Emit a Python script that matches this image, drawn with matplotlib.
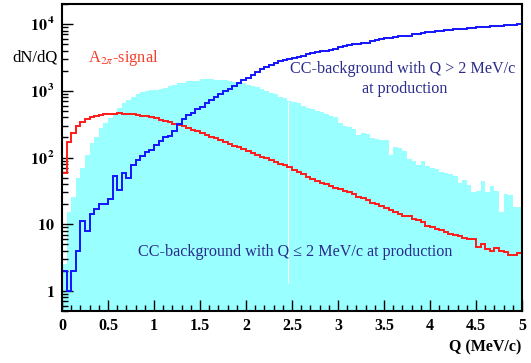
import numpy as np
import matplotlib
matplotlib.use("Agg")
import matplotlib.pyplot as plt
from matplotlib.ticker import FixedLocator, FixedFormatter, MultipleLocator, NullFormatter

plt.rcParams['font.family'] = ['Liberation Serif', 'DejaVu Serif']
plt.rcParams['mathtext.fontset'] = 'stix'

# --- datos (100 bins de 0.05 MeV/c) ---
bin_width = 0.05
n_bins = 100

# CC-background con Q <= 2 MeV/c (relleno cian)
cc_low = [2.5, 15, 26, 49, 70, 110, 165, 205, 278, 330,
          390, 470, 550, 660, 730, 820, 900, 950, 1000, 1020,
          1040, 1060, 1100, 1200, 1230, 1300, 1310, 1380, 1400, 1420,
          1480, 1500, 1490, 1460, 1450, 1440, 1380, 1370, 1340, 1300,
          1220, 1180, 1150, 1050, 1000, 920, 880, 820, 780, 710,
          670, 650, 590, 550, 530, 490, 475, 445, 415, 400,
          330, 295, 285, 265, 218, 232, 228, 198, 192, 185,
          180, 109, 142, 138, 124, 95, 90, 77, 89, 75,
          70, 68, 61, 58, 56, 52, 42, 46, 39, 30,
          32, 44, 30, 37, 31, 15, 28, 27, 18, 18]

# senal A_2pi (rojo)
signal = [59, 172, 235, 300, 340, 375, 400, 420, 435, 445,
          448, 455, 458, 455, 448, 442, 435, 420, 415, 400,
          385, 360, 348, 335, 322, 312, 298, 280, 262, 248,
          232, 220, 205, 193, 182, 170, 160, 151, 142, 133,
          124, 117, 110, 103, 97, 92, 86, 81, 77, 73,
          66, 61, 56, 51, 48, 45, 42, 40, 37, 35,
          34, 32, 30, 28, 26, 24.5, 23, 21, 20, 18.5,
          17.5, 16.5, 15, 14, 13.3, 13.2, 12.0, 11.5, 10.8, 9.5,
          9.0, 8.5, 8.3, 7.6, 7.2, 7.0, 6.7, 6.2, 6.0, 5.9,
          4.6, 5.0, 4.2, 4.0, 4.4, 3.9, 3.8, 3.4, 3.5, 3.7]

# CC-background con Q > 2 MeV/c (azul)
cc_high = [2, 1, 2, 4, 11, 8, 14, 17, 20, 20,
           24, 53, 33, 59, 49, 77, 92, 106, 122, 128,
           155, 175, 201, 212, 253, 320, 376, 435, 470, 530,
           580, 660, 730, 800, 900, 990, 1050, 1200, 1300, 1450,
           1580, 1750, 1900, 2100, 2250, 2450, 2600, 2750, 2850, 2950,
           3080, 3200, 3350, 3500, 3700, 3780, 3900, 4000, 4150, 4300,
           4500, 4650, 4800, 4950, 5100, 5250, 5150, 5500, 5750, 5950,
           6100, 6250, 6400, 6550, 6700, 6550, 7050, 7200, 7300, 7500,
           7650, 7800, 7950, 8100, 8200, 8300, 8400, 8500, 8650, 8750,
           8900, 9000, 9100, 9200, 9300, 9400, 9550, 9650, 9800, 10000]

# linea blanca (artefacto) dentro del relleno
seam_q = 2.46
seam_low = 1.3

y_ticks = [1, 10, 100, 1000, 10000]
y_labels = [r'$\mathbf{1}$', r'$\mathbf{10}$', r'$\mathbf{10^{\,2}}$',
            r'$\mathbf{10^{\,3}}$', r'$\mathbf{10^{\,4}}$']
x_ticks = [0, 0.5, 1, 1.5, 2, 2.5, 3, 3.5, 4, 4.5, 5]
x_labels = ['0', '0.5', '1', '1.5', '2', '2.5', '3', '3.5', '4', '4.5', '5']

edges = np.arange(n_bins + 1) * bin_width

fig = plt.figure(figsize=(5.31, 3.63), dpi=100)
ax = fig.add_axes([62/531, 1 - 311/363, 460/531, 307/363])
ax.set_yscale('log')

ax.stairs(cc_low, edges, fill=True, baseline=1e-3, color='#99ffff', lw=0, zorder=1)
i_seam = int(seam_q / bin_width)
ax.vlines(seam_q, seam_low, cc_low[i_seam], color='white', lw=0.8, zorder=2)
ax.stairs(signal, edges, baseline=1e-3, color='#ff1a1a', lw=1.4, zorder=3)
ax.stairs(cc_high, edges, baseline=1e-3, color='#1414ff', lw=1.4, zorder=4)

ax.set_xlim(0, 5)
ax.set_ylim(0.5, 2e4)

ax.yaxis.set_major_locator(FixedLocator(y_ticks))
ax.yaxis.set_major_formatter(FixedFormatter(y_labels))
minor_y = [m * 10**d for d in range(-1, 5) for m in range(2, 10)]
ax.yaxis.set_minor_locator(FixedLocator(minor_y))
ax.yaxis.set_minor_formatter(NullFormatter())
ax.xaxis.set_major_locator(FixedLocator(x_ticks))
ax.xaxis.set_major_formatter(FixedFormatter(x_labels))
ax.xaxis.set_minor_locator(MultipleLocator(0.1))

ax.tick_params(which='both', direction='in', top=False, right=False, width=1.0, color='black')
ax.tick_params(which='major', length=8)
ax.tick_params(which='minor', length=4.3)
ax.tick_params(axis='x', pad=5, labelsize=11.5)
ax.tick_params(axis='y', pad=5, labelsize=11.5)
for lab in ax.get_xticklabels():
    lab.set_fontweight('bold')
for s in ax.spines.values():
    s.set_linewidth(1.5)
    s.set_zorder(5)

fig.text(35/531, 1 - 58/363, 'dN/dQ', ha='center', va='center', fontsize=12)
fig.text(521/531, 1 - 347/363, 'Q (MeV/c)', ha='right', va='center', fontsize=11.5, fontweight='bold')

ax.text(0.28, 3100, r'A$_{2\pi}$-signal', color='#f5402c', fontsize=11.8, va='center', ha='left')
ax.text(3.70, 2150, 'CC-background with Q > 2 MeV/c', color='#2b2b8c', fontsize=11.6,
        ha='center', va='center')
ax.text(3.72, 1070, 'at production', color='#2b2b8c', fontsize=11.6, ha='center', va='center')
ax.text(2.54, 3.8, u'CC-background with Q \u2264 2 MeV/c at production', color='#2b2b8c',
        fontsize=11.6, ha='center', va='center')

fig.savefig('out.png', dpi=100)
